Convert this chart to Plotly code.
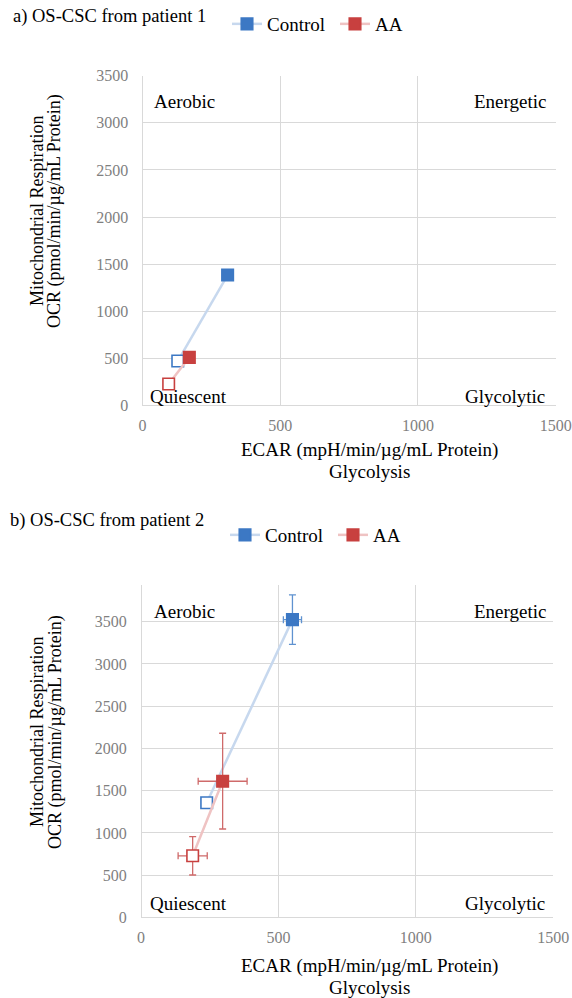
import plotly.graph_objects as go

W, H = 572, 998

# ---- data: patient 1 (stressed point first, baseline second) ----
p1_control_ecar = [309, 128]
p1_control_ocr = [1386, 474]
p1_aa_ecar = [170, 95]
p1_aa_ocr = [513, 230]

# ---- data: patient 2 ----
p2_control_ecar = [551, 239]
p2_control_ocr = [3524, 1358]
p2_control_ecar_err = [33, 0]
p2_control_ocr_err = [292, 0]
p2_aa_ecar = [297, 188]
p2_aa_ocr = [1612, 730]
p2_aa_ecar_err = [89, 53]
p2_aa_ocr_err_plus = [568, 226]
p2_aa_ocr_err_minus = [565, 227]

x_ticks = [0, 500, 1000, 1500]
y_ticks = [0, 500, 1000, 1500, 2000, 2500, 3000, 3500]
series_names = ["Control", "AA"]

BLUE = "#3c78c4"
RED = "#c8403f"
BLUE_LINE = "#c7d8ee"
RED_LINE = "#efc3c3"
BLUE_ERR = "#5f92d0"
RED_ERR = "#cf6a6a"
GRID = "#d9d9d9"
SERIF = "'Liberation Serif', 'Times New Roman', Times, 'DejaVu Serif', serif"


def px(x):
    return x / W


def py(y):
    return 1 - y / H


def add_series(xs, ys, name, color, line_color, err_color, xa, ya, legend,
               ex=None, ey=None, ey_minus=None):
    kw = {}
    if ey is not None:
        kw["error_y"] = dict(type="data", array=ey,
                             arrayminus=ey_minus if ey_minus is not None else ey,
                             color=err_color, thickness=1.3, width=3.5)
    if ex is not None:
        kw["error_x"] = dict(type="data", array=ex, color=err_color,
                             thickness=1.3, width=3.5)
    fig.add_trace(go.Scatter(
        x=xs, y=ys, name=name, mode="lines+markers",
        xaxis=xa, yaxis=ya, legend=legend,
        line=dict(color=line_color, width=2.5),
        marker=dict(symbol="square", size=11.5, color=[color, "white"],
                    line=dict(color=color, width=1.6)),
        **kw))


fig = go.Figure()

add_series(p1_control_ecar, p1_control_ocr, series_names[0], BLUE, BLUE_LINE,
           BLUE_ERR, "x", "y", "legend")
add_series(p1_aa_ecar, p1_aa_ocr, series_names[1], RED, RED_LINE,
           RED_ERR, "x", "y", "legend")
add_series(p2_control_ecar, p2_control_ocr, series_names[0], BLUE, BLUE_LINE,
           BLUE_ERR, "x2", "y2", "legend2",
           ex=p2_control_ecar_err, ey=p2_control_ocr_err)
add_series(p2_aa_ecar, p2_aa_ocr, series_names[1], RED, RED_LINE,
           RED_ERR, "x2", "y2", "legend2",
           ex=p2_aa_ecar_err, ey=p2_aa_ocr_err_plus, ey_minus=p2_aa_ocr_err_minus)

tickfont = dict(family=SERIF, size=16, color="#7f7f7f")
axis_common = dict(showgrid=True, gridcolor=GRID, gridwidth=1,
                   zeroline=True, zerolinecolor=GRID, zerolinewidth=1,
                   showline=False, ticks="outside", automargin=False,
                   tickcolor="rgba(0,0,0,0)", tickfont=tickfont, fixedrange=True)

legend_common = dict(orientation="h", xanchor="left", yanchor="middle",
                     bgcolor="rgba(0,0,0,0)", entrywidth=63,
                     font=dict(family=SERIF, size=19, color="black"))

fig.update_layout(
    template="none",
    width=W, height=H,
    margin=dict(l=0, r=0, t=0, b=0, autoexpand=False),
    paper_bgcolor="white", plot_bgcolor="white",
    xaxis=dict(domain=[px(142.5), px(555.7)], anchor="y", range=[0, 1500],
               tickvals=x_ticks, ticklen=5, **axis_common),
    yaxis=dict(domain=[py(405.7), py(75.7)], anchor="x", range=[0, 3500],
               tickvals=y_ticks, ticklen=10, **axis_common),
    xaxis2=dict(domain=[px(141), px(553.3)], anchor="y2", range=[0, 1500],
                tickvals=x_ticks, ticklen=5, **axis_common),
    yaxis2=dict(domain=[py(917.5), py(585)], anchor="x2", range=[0, 3934],
                tickvals=y_ticks, ticklen=10, **axis_common),
    legend=dict(x=px(227), y=py(24), **legend_common),
    legend2=dict(x=px(225), y=py(535), **legend_common),
    showlegend=True,
)

annotations = []


def text(t, x, y, size=19, xanchor="center", angle=0, color="black"):
    annotations.append(dict(text=t, x=px(x), y=py(y), xref="paper", yref="paper",
                            xanchor=xanchor, yanchor="middle", showarrow=False,
                            textangle=angle,
                            font=dict(family=SERIF, size=size, color=color)))


# panel titles
text("a) OS-CSC from patient 1", 11, 17, size=18.5, xanchor="left")
text("b) OS-CSC from patient 2", 8, 520, size=18.5, xanchor="left")

# quadrant labels
for top, bottom in [(101.7, 396.7), (611.7, 903)]:
    text("Aerobic", 152, top, xanchor="left")
    text("Energetic", 548, top, xanchor="right")
    text("Quiescent", 148, bottom, xanchor="left")
    text("Glycolytic", 547, bottom, xanchor="right")

# axis titles
for xt_y, yt_y in [(450, 211), (966, 732)]:
    text("ECAR (mpH/min/µg/mL Protein)", 369, xt_y)
    text("Glycolysis", 369, xt_y + 21.5)
    text("Mitochondrial Respiration", 37, yt_y, size=18, angle=-90)
    text("OCR (pmol/min/µg/mL Protein)", 55, yt_y, size=18, angle=-90)

fig.update_layout(annotations=annotations)

fig.write_html("out.html")
